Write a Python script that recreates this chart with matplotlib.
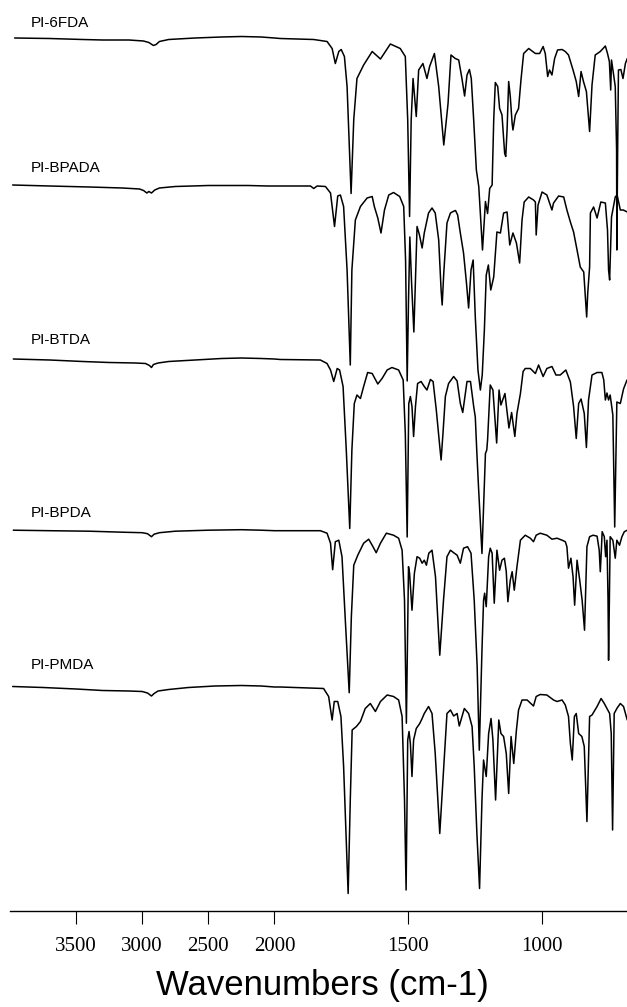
import numpy as np
import matplotlib
matplotlib.use("Agg")
import matplotlib.pyplot as plt

# ---------------- data: (wavenumber cm-1, relative transmittance a.u.) ----------------
names = ["PI-6FDA", "PI-BPADA", "PI-BTDA", "PI-BPDA", "PI-PMDA"]

pi_6fda = [
    (3965, 0.5), (3700, 0), (3450, -1), (3300, -1.5), (3100, -1.5), (2990, -2.5), (2950, -4),
    (2915, -7), (2895, -6), (2870, -3), (2800, -1), (2600, 0.5), (2400, 1.5), (2250, 2), (2100, 1.5),
    (2000, 0.5), (1978, 0), (1853, -1), (1803, -3), (1784, -10), (1772, -25), (1759, -13), (1750, -11),
    (1738, -18), (1728, -48), (1713, -155), (1703, -81), (1691, -40), (1666, -26.5), (1634, -13),
    (1603, -20.5), (1566, -5.5), (1529, -10), (1510, -18), (1501, -81.5), (1494, -178), (1488, -81.5),
    (1481, -40), (1469, -78), (1460, -31.5), (1444, -25), (1429, -40), (1419, -28), (1401, -15),
    (1385, -48), (1366, -106.5), (1350, -65), (1339, -16.5), (1323, -20), (1310, -21.5), (1298, -40),
    (1288, -57.5), (1279, -36.5), (1270, -31), (1263, -40), (1254, -81.5), (1244, -131.5), (1235, -148),
    (1229, -175), (1221, -211.5), (1210, -163), (1202, -175), (1194, -150), (1185, -146.5), (1179, -81.5),
    (1173, -44), (1164, -48), (1157, -70), (1148, -76.5), (1138, -115), (1134, -118), (1129, -91.5),
    (1123, -43), (1117, -58), (1110, -85), (1107, -91.5), (1098, -76.5), (1086, -70), (1077, -41.5),
    (1067, -15), (1048, -10), (1023, -15), (1007, -15), (994, -8), (986, -15), (977, -38), (970, -31.5),
    (961, -36.5), (951, -20), (940, -11.5), (923, -11), (911, -13), (899, -16.5), (882, -31.5), (870, -43),
    (861, -58), (852, -33), (843, -43), (832, -53), (820, -93), (811, -46.5), (799, -16.5), (780, -13),
    (761, -7.5), (753, -15), (746, -23), (741, -51.5), (738, -21.5), (730, -36.5), (724, -48), (719, -111),
    (718, -211.5), (715, -111), (712, -31.5), (703, -31), (695, -40), (686, -25), (679, -20),
]

pi_bpada = [
    (3980, 1), (3700, 0), (3400, -1), (3150, -2), (3020, -3), (2990, -4.5), (2965, -7), (2950, -5.5),
    (2930, -7), (2905, -4), (2870, -2), (2750, -0.5), (2500, 0.5), (2200, 0.5), (2050, 0), (1978, 0),
    (1865, 0), (1853, -2.5), (1840, 0), (1809, -0.5), (1790, -7), (1775, -40.5), (1763, -10), (1753, -9),
    (1741, -20.5), (1728, -84), (1716, -179), (1710, -84), (1697, -34), (1678, -20.5), (1653, -12),
    (1634, -10.5), (1626, -20.5), (1613, -32), (1601, -47), (1588, -24), (1572, -9), (1554, -6.5),
    (1531, -10.5), (1516, -20.5), (1509, -74), (1503, -195), (1498, -114), (1493, -51), (1487, -94),
    (1478, -146), (1472, -94), (1466, -40.5), (1457, -49), (1447, -62), (1439, -47), (1423, -27),
    (1410, -22), (1398, -27), (1385, -54), (1376, -104), (1372, -119), (1366, -87), (1354, -37),
    (1341, -27), (1331, -25.5), (1322, -24.5), (1314, -29), (1304, -47), (1292, -67), (1281, -97),
    (1273, -122), (1264, -84), (1256, -74), (1248, -131), (1238, -184), (1229, -204), (1222, -189),
    (1214, -144), (1207, -89), (1199, -79), (1190, -104), (1179, -91), (1167, -46), (1154, -47),
    (1142, -27), (1129, -26), (1119, -59), (1107, -47), (1094, -57), (1082, -77), (1073, -34), (1065, -16),
    (1048, -11), (1030, -14), (1023, -16), (1020, -49), (1013, -19), (998, -6), (980, -9), (961, -24),
    (955, -17), (936, -10), (917, -11), (905, -24), (892, -36), (880, -46), (867, -64), (855, -81),
    (842, -86), (831, -131), (827, -107), (820, -81), (817, -27), (805, -21), (792, -32), (778, -16),
    (761, -17), (753, -44), (749, -84), (745, -94), (738, -31), (724, -11), (717, -9), (705, -24),
    (694, -24), (679, -26),
]

pi_btda = [
    (3975, 0.5), (3700, -0.5), (3450, -2), (3250, -3), (3050, -3.5), (2975, -4), (2945, -6), (2930, -8),
    (2915, -5), (2880, -3.5), (2800, -2), (2600, -0.5), (2400, 1), (2250, 1.5), (2100, 1), (2000, 0.5),
    (1978, 0), (1828, -0.5), (1803, -4), (1790, -10.5), (1778, -22), (1765, -9), (1756, -10.5),
    (1743, -27), (1731, -90.5), (1718, -169), (1710, -90.5), (1701, -44), (1691, -35.5), (1678, -39),
    (1666, -27), (1651, -13), (1634, -14), (1613, -24.5), (1597, -19), (1578, -10.5), (1560, -8),
    (1535, -10.5), (1518, -20.5), (1510, -74), (1503, -177.5), (1497, -44), (1491, -37), (1485, -47),
    (1479, -77), (1472, -47), (1464, -24), (1451, -22), (1439, -27), (1429, -30.5), (1416, -20),
    (1406, -22), (1394, -50.5), (1381, -87), (1376, -100.5), (1369, -74), (1360, -37), (1348, -24),
    (1329, -17), (1316, -21.5), (1304, -44), (1295, -53), (1279, -22), (1266, -22), (1254, -47),
    (1248, -57.5), (1242, -94), (1236, -127), (1223, -194), (1210, -94), (1205, -90.5), (1202, -80.5),
    (1192, -25.5), (1182, -30.5), (1168, -83.5), (1159, -30.5), (1152, -45.5), (1137, -34), (1122, -68.5),
    (1112, -53), (1100, -77), (1092, -54), (1079, -34), (1069, -12), (1061, -9), (1042, -9), (1023, -14),
    (1011, -5.5), (994, -17), (980, -9), (961, -7), (946, -15.5), (930, -15.5), (909, -10.5), (892, -22.5),
    (880, -47), (870, -79), (861, -44), (852, -39.5), (840, -54), (832, -88), (824, -40.5), (811, -15.5),
    (792, -13), (774, -13), (767, -20.5), (761, -40.5), (755, -33.5), (749, -40.5), (743, -35.5),
    (733, -55.5), (726, -167.5), (718, -42.5), (705, -44), (693, -29.5), (680, -20.5),
]

pi_bpda = [
    (3975, 0.5), (3700, 0), (3400, -0.5), (3150, -1.5), (3000, -2), (2960, -3), (2930, -6), (2910, -3.5),
    (2870, -2), (2750, -0.5), (2500, 0.5), (2250, 1), (2100, 0.5), (2000, 0), (1978, 0), (1828, 0),
    (1803, -2.5), (1790, -12.5), (1782, -39), (1772, -11), (1759, -9.5), (1747, -26), (1734, -92.5),
    (1720, -162), (1712, -86), (1703, -34.5), (1688, -24.5), (1666, -12.5), (1647, -8.5), (1631, -16),
    (1619, -22), (1603, -12.5), (1581, -2.5), (1554, -4.5), (1535, -7.5), (1522, -19.5), (1513, -69.5),
    (1506, -192.5), (1498, -36), (1494, -42.5), (1485, -79.5), (1476, -42.5), (1466, -26), (1456, -27.5),
    (1447, -32.5), (1439, -29.5), (1431, -34.5), (1422, -22.5), (1410, -19.5), (1397, -46), (1381, -124.5),
    (1367, -69.5), (1354, -26), (1341, -19.5), (1329, -22), (1316, -24.5), (1304, -32.5), (1292, -17.5),
    (1277, -16), (1264, -22.5), (1252, -69.5), (1241, -136), (1233, -219.5), (1223, -119.5), (1217, -69.5),
    (1213, -62.5), (1207, -76), (1198, -26), (1192, -17.5), (1185, -22.5), (1177, -72.5), (1167, -19.5),
    (1157, -39.5), (1148, -29.5), (1139, -27.5), (1132, -41), (1126, -71), (1117, -49.5), (1110, -41),
    (1102, -59.5), (1092, -36), (1079, -9.5), (1061, -4.5), (1042, -7.5), (1030, -11), (1020, -4.5),
    (1005, -2.5), (980, -4.5), (961, -8.5), (942, -7.5), (923, -9.5), (911, -11), (905, -16), (899, -37.5),
    (890, -27.5), (882, -46), (876, -74.5), (867, -29.5), (857, -49.5), (848, -69.5), (839, -99.5),
    (830, -16), (820, -6), (807, -4.5), (792, -5.5), (784, -19.5), (780, -41), (776, -19.5), (773, -1),
    (765, -6), (760, -26), (755, -9.5), (751, -69.5), (749, -129.5), (746, -69.5), (743, -6), (733, -9.5),
    (724, -27.5), (718, -9.5), (708, -14.5), (699, -6), (690, -1), (679, 0.5),
]

pi_pmda = [
    (3980, 0.5), (3750, -0.5), (3500, -2), (3300, -3.5), (3100, -4), (3000, -4.5), (2960, -6), (2930, -9),
    (2910, -6.5), (2880, -4), (2800, -2.5), (2650, -0.5), (2450, 1), (2250, 1.5), (2100, 1), (2000, 0),
    (1978, 0), (1816, -1.5), (1797, -9.5), (1784, -33), (1776, -14.5), (1763, -14.5), (1751, -29.5),
    (1741, -79.5), (1724, -206.5), (1716, -113), (1709, -43), (1693, -39.5), (1678, -34.5), (1660, -21.5),
    (1641, -16.5), (1622, -24.5), (1603, -14.5), (1578, -8), (1554, -9.5), (1535, -13), (1522, -29.5),
    (1513, -113), (1507, -203), (1501, -53), (1496, -44.5), (1491, -56.5), (1485, -89.5), (1479, -53),
    (1469, -41.5), (1456, -36.5), (1447, -31.5), (1439, -26.5), (1423, -19.5), (1410, -26.5), (1398, -66.5),
    (1381, -146.5), (1366, -79.5), (1354, -26.5), (1341, -23), (1329, -29), (1316, -26.5), (1308, -39),
    (1289, -21.5), (1273, -26.5), (1260, -39.5), (1252, -79.5), (1242, -146.5), (1232, -201.5),
    (1223, -113), (1217, -73), (1212, -81.5), (1207, -89.5), (1198, -46.5), (1189, -31.5), (1182, -53),
    (1172, -113), (1160, -33), (1152, -46.5), (1142, -49.5), (1132, -66.5), (1123, -106.5), (1114, -49.5),
    (1104, -76.5), (1094, -43), (1086, -23), (1073, -13), (1054, -13), (1030, -19), (1020, -9.5),
    (1005, -7.5), (980, -8), (955, -13), (942, -14.5), (923, -13), (911, -18), (899, -29.5), (892, -56.5),
    (885, -73), (877, -29.5), (870, -26.5), (861, -46.5), (849, -49.5), (840, -59.5), (830, -134.5),
    (820, -29.5), (811, -28), (792, -19.5), (777, -11.5), (765, -16.5), (755, -21.5), (745, -26.5),
    (739, -46.5), (734, -143), (728, -26.5), (718, -21.5), (705, -16.5), (693, -19.5), (679, -33),
]

tick_values = [3500, 3000, 2500, 2000, 1500, 1000]
tick_labels = ["3500", "3000", "2500", "2000", "1500", "1000"]
x_label = "Wavenumbers (cm-1)"

# ---------------- layout ----------------
spectra = [pi_6fda, pi_bpada, pi_btda, pi_bpda, pi_pmda]
offsets = [38.5, 186.0, 359.5, 530.7, 687.0]
label_y = [23, 168, 340, 513, 665]
label_wn = 3840

BREAK = 2000.0
COMP = 0.495


def fwd(w):
    w = np.asarray(w, dtype=float)
    return np.where(w > BREAK, BREAK + (w - BREAK) * COMP, w)


def inv(u):
    u = np.asarray(u, dtype=float)
    return np.where(u > BREAK, BREAK + (u - BREAK) / COMP, u)


W, H = 627, 1007
fig = plt.figure(figsize=(W / 100, H / 100), dpi=100)
ax_bottom = 911
ax = fig.add_axes([10 / W, 1 - ax_bottom / H, 617 / W, ax_bottom / H])
ax.set_xscale('function', functions=(fwd, inv))

for name, pts, off, ly in zip(names, spectra, offsets, label_y):
    arr = np.array(pts, dtype=float)
    ax.plot(arr[:, 0], arr[:, 1] - off, color='black', lw=1.1,
            solid_joinstyle='round', solid_capstyle='round')
    ax.text(label_wn, -ly, name, fontsize=11, family='Liberation Sans',
            va='center', ha='left', color='black')

ax.set_xlim(4000, 680)
ax.set_ylim(-ax_bottom, 0)
ax.set_xticks(tick_values)
ax.set_xticklabels(tick_labels, fontfamily='Liberation Serif', fontsize=15)
ax.xaxis.set_minor_locator(matplotlib.ticker.NullLocator())
ax.tick_params(axis='x', direction='out', length=9, width=0.8, pad=10, colors='black')
ax.tick_params(axis='y', left=False, labelleft=False)
for s in ['top', 'left', 'right']:
    ax.spines[s].set_visible(False)
ax.spines['bottom'].set_linewidth(1.0)
ax.patch.set_alpha(0)

fig.text(322 / W, 1 - 985 / H, x_label, ha='center', va='center',
         fontsize=25, family='Liberation Sans', color='black')

fig.savefig('out.png', dpi=100)
